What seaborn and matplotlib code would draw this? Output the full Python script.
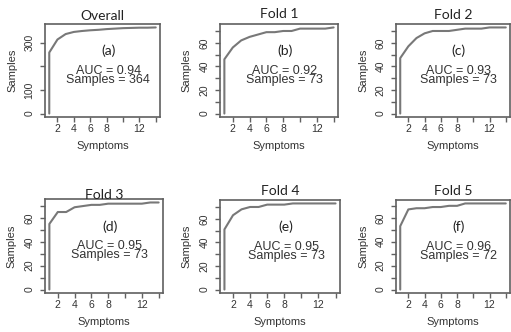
import numpy as np
import matplotlib
matplotlib.use('Agg')
import matplotlib.pyplot as plt
import seaborn as sns

# cumulative samples vs number of symptoms
symptoms = list(range(1, 15))
overall = [258, 313, 336, 345, 349, 352, 354, 357, 359, 361, 362, 363, 363, 364]
fold1 = [46, 56, 62, 65, 67, 69, 69, 70, 70, 72, 72, 72, 72, 73]
fold2 = [47, 57, 64, 68, 70, 70, 70, 71, 72, 72, 72, 73, 73, 73]
fold3 = [55, 65, 65, 69, 70, 71, 71, 72, 72, 72, 72, 72, 73, 73]
fold4 = [51, 63, 68, 70, 70, 72, 72, 72, 73, 73, 73, 73, 73, 73]
fold5 = [53, 67, 68, 68, 69, 69, 70, 70, 72, 72, 72, 72, 72, 72]

titles = ['Overall', 'Fold 1', 'Fold 2', 'Fold 3', 'Fold 4', 'Fold 5']
letters = ['(a)', '(b)', '(c)', '(d)', '(e)', '(f)']
auc = [0.94, 0.92, 0.93, 0.95, 0.95, 0.96]
n_samples = [364, 73, 73, 73, 73, 72]
series = [overall, fold1, fold2, fold3, fold4, fold5]

sns.set_style('white')
plt.rcParams['font.family'] = ['Liberation Sans', 'DejaVu Sans']

W, H = 511, 332
fig = plt.figure(figsize=(W / 100, H / 100), dpi=100)

# panel boxes in pixels: left, top, right, bottom ; title baseline in px
boxes = [(45, 24, 160, 117), (220, 24, 338, 117), (396, 24, 510, 117),
         (45, 199, 163, 293), (220, 200, 340, 293), (396, 200, 510, 293)]
title_base = [20, 18, 19, 199, 195, 195]

line_col = '#787878'
box_col = '#606060'
txt_col = '#333333'

for i in range(6):
    l, t, r, b = boxes[i]
    ax = fig.add_axes([l / W, (H - b) / H, (r - l) / W, (b - t) / H])
    ys = series[i]
    sns.lineplot(x=[1] + symptoms, y=[0] + ys, ax=ax, estimator=None, sort=False,
                 color=line_col, linewidth=1.5)
    ymax = max(ys)
    ax.set_xlim(1 - 0.04 * 13, 14 + 0.04 * 13)
    ax.set_ylim(-0.04 * ymax, 1.04 * ymax)

    ax.set_xticks([2, 4, 6, 8, 10, 12, 14])
    ax.set_xticklabels(['2', '4', '6', '8', '', '12', ''])
    if i == 0:
        ax.set_yticks([0, 100, 200, 300])
        ax.set_yticklabels(['0', '100', '', '300'])
    else:
        ax.set_yticks(np.arange(0, 80, 10))
        ax.set_yticklabels(['0', '', '20', '', '40', '', '60', ''])
    for lab in ax.get_yticklabels():
        lab.set_rotation(90)
        lab.set_va('center')

    ax.tick_params(axis='both', direction='out', length=3.5, width=1.0,
                   color=box_col, labelcolor=txt_col, labelsize=7.5)
    ax.tick_params(axis='x', pad=1.5)
    ax.tick_params(axis='y', pad=4)
    ax.tick_params(left=True, bottom=True)
    for sp in ax.spines.values():
        sp.set_visible(True)
        sp.set_color(box_col)
        sp.set_linewidth(1.2)

    ax.set_xlabel('Symptoms', fontsize=8, color=txt_col)
    ax.set_ylabel('Samples', fontsize=8, color=txt_col)
    ax.xaxis.set_label_coords(0.5, -0.26)
    ax.yaxis.set_label_coords(-0.24, 0.5)

    hpx = b - t
    ax.text(0.5, 1 + (t - title_base[i]) / hpx, titles[i], transform=ax.transAxes,
            ha='center', va='baseline', fontsize=10, family=['Lato', 'DejaVu Sans'],
            color='#222222')
    ax.text(0.55, 0.71, letters[i], transform=ax.transAxes, ha='center', va='center',
            fontsize=10, family=['Lato', 'DejaVu Sans'], color='#222222')
    ax.text(0.55, 0.50, f'AUC = {auc[i]:.2f}', transform=ax.transAxes,
            ha='center', va='center', fontsize=9, color=txt_col)
    ax.text(0.55, 0.40, f'Samples = {n_samples[i]}', transform=ax.transAxes,
            ha='center', va='center', fontsize=9, color=txt_col)

fig.savefig('out.png', dpi=100)
